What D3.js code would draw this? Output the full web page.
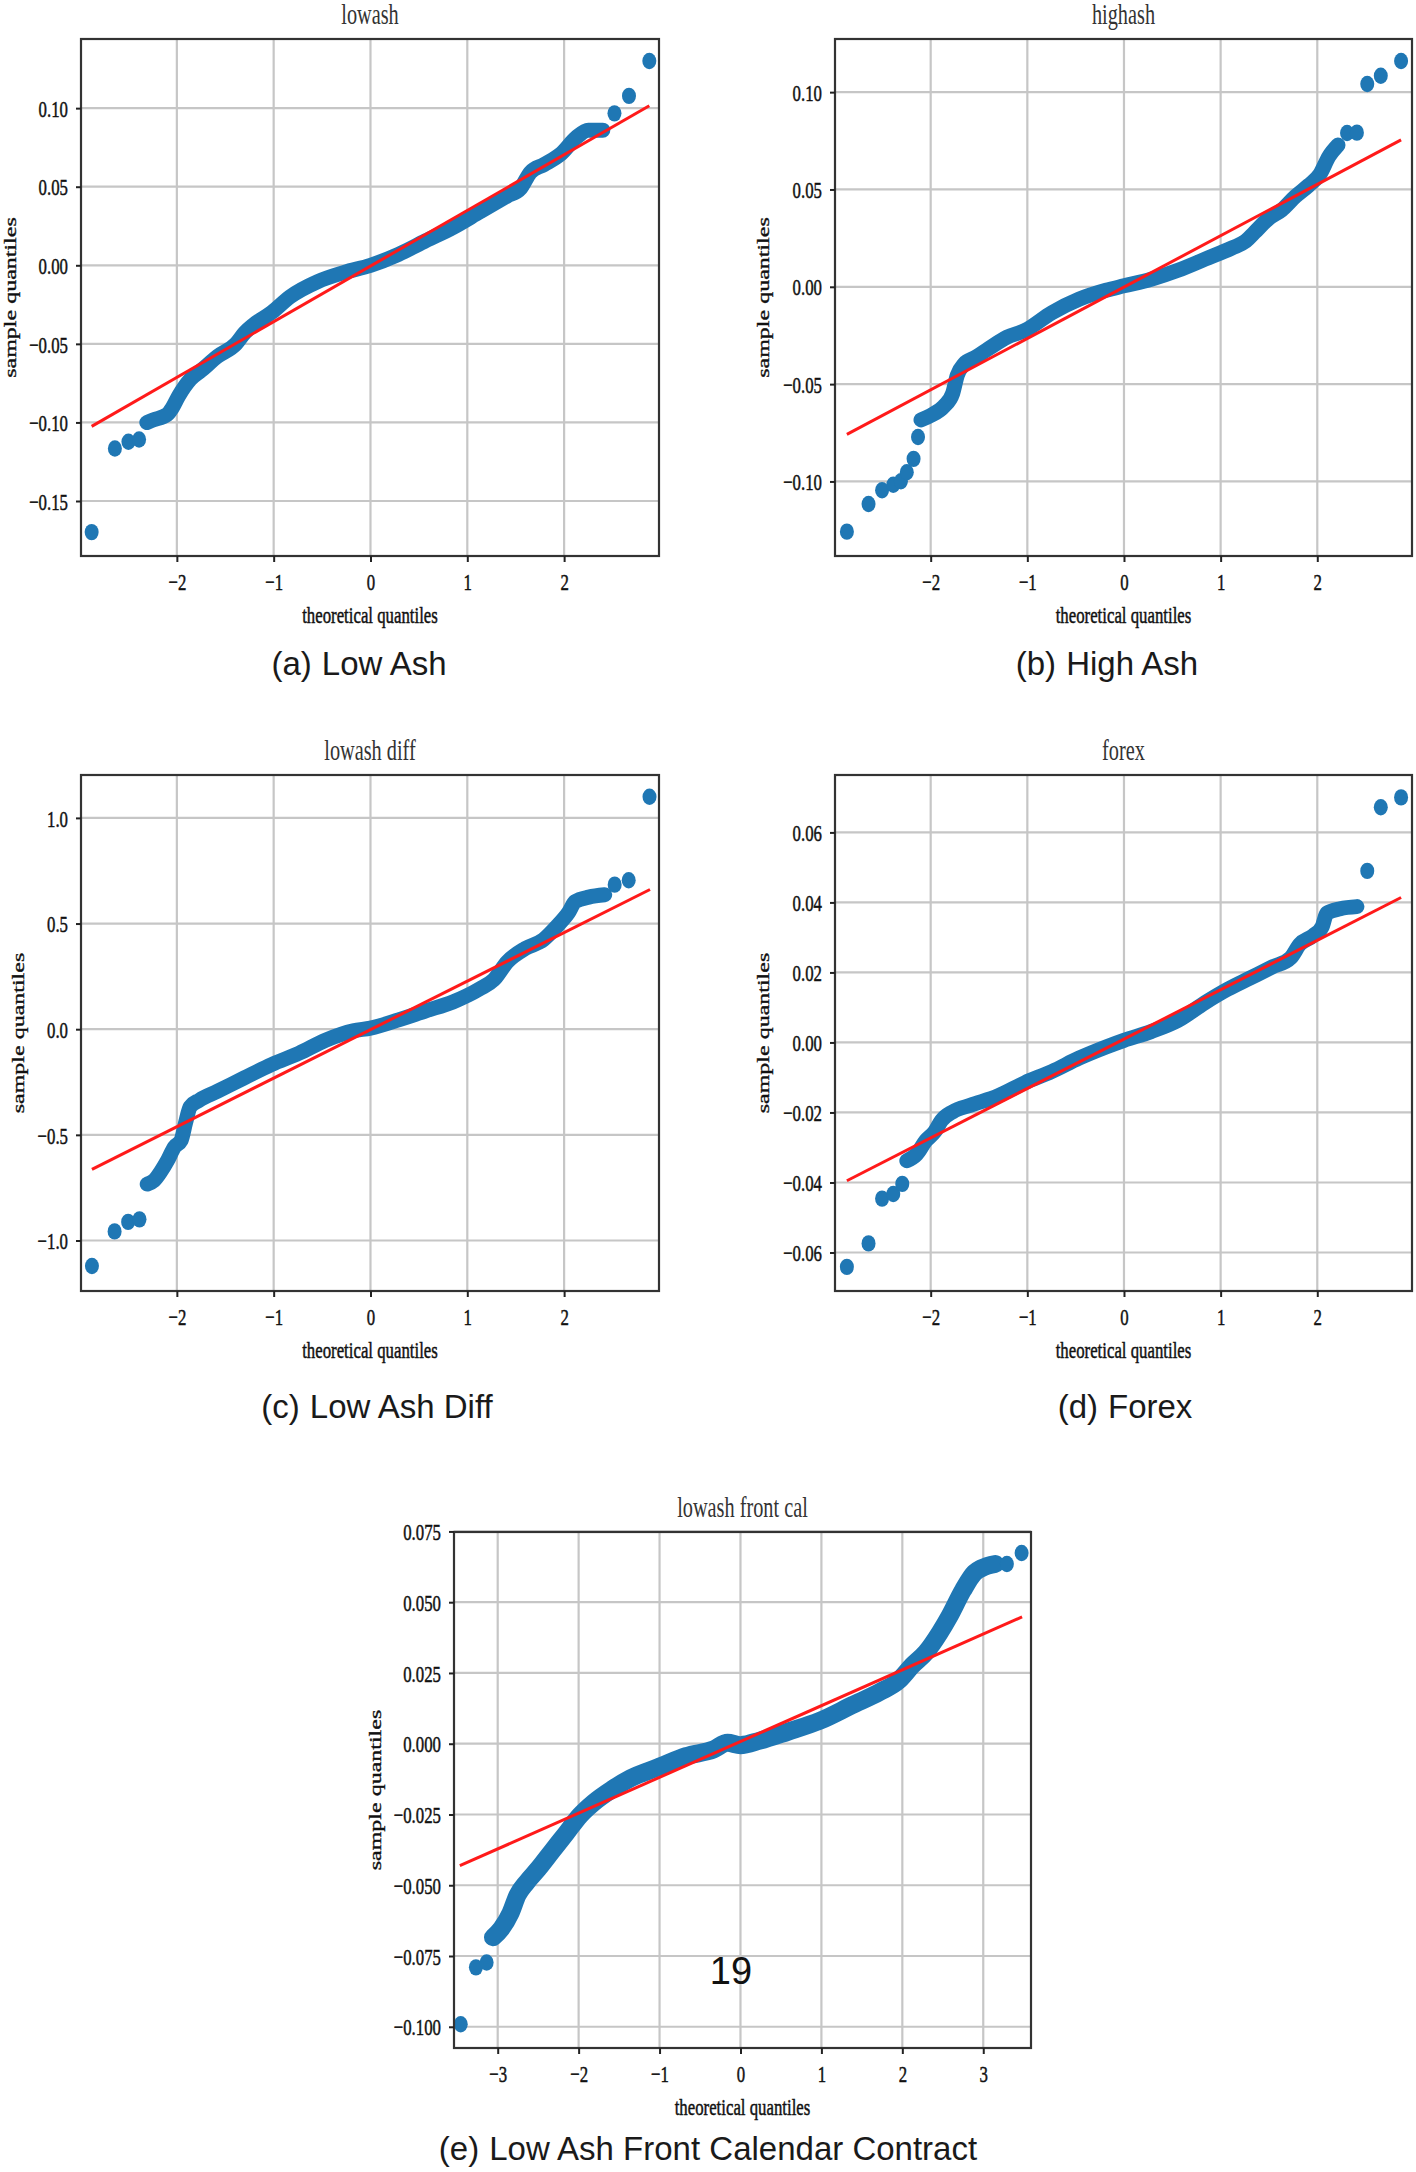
<!DOCTYPE html>
<html>
<head>
<meta charset="utf-8">
<script src="https://cdn.jsdelivr.net/npm/d3@7"></script>
<style>
  body { margin: 0; background: #fff; }
</style>
</head>
<body>
<svg id="fig"></svg>
<script>
// tick values
const theoTicks = [-2, -1, 0, 1, 2];
const theoTicksWide = [-3, -2, -1, 0, 1, 2, 3];
const lowashTicks = [-0.15, -0.10, -0.05, 0, 0.05, 0.10];
const highashTicks = [-0.10, -0.05, 0, 0.05, 0.10];
const diffTicks = [-1.0, -0.5, 0, 0.5, 1.0];
const forexTicks = [-0.06, -0.04, -0.02, 0, 0.02, 0.04, 0.06];
const frontTicks = [-0.100, -0.075, -0.050, -0.025, 0, 0.025, 0.050, 0.075];

// lowash: dense band of points, separate tail points, fitted line ends
const lowashBandQ = [-2.31, -2.25, -2.10, -2.05, -1.98, -1.86, -1.75, -1.58, -1.39, -1.30, -1.21, -1.02, -0.83, -0.55, -0.27, 0, 0.29, 0.57, 0.85, 1.13, 1.41, 1.55, 1.65, 1.79, 1.97, 2.12, 2.25, 2.40];
const lowashBandS = [-0.1001, -0.0985, -0.095, -0.091, -0.083, -0.0725, -0.067, -0.058, -0.050, -0.043, -0.038, -0.030, -0.020, -0.0105, -0.0045, 0, 0.007, 0.0156, 0.024, 0.034, 0.044, 0.049, 0.059, 0.064, 0.071, 0.081, 0.086, 0.086];
const lowashDotQ = [-2.88, -2.64, -2.50, -2.39, 2.52, 2.67, 2.88];
const lowashDotS = [-0.1698, -0.1166, -0.1123, -0.1109, 0.0967, 0.1078, 0.130];
const lowashFitQ = [-2.88, 2.88];
const lowashFitS = [-0.1025, 0.1015];

// highash
const highashBandQ = [-2.10, -2.00, -1.865, -1.772, -1.725, -1.655, -1.538, -1.399, -1.212, -1.026, -0.746, -0.466, -0.186, 0, 0.280, 0.559, 0.839, 1.119, 1.259, 1.352, 1.492, 1.632, 1.772, 1.911, 2.028, 2.121, 2.214];
const highashBandS = [-0.0684, -0.0661, -0.0615, -0.0547, -0.0455, -0.0397, -0.0363, -0.0317, -0.0259, -0.0225, -0.0133, -0.0064, -0.0018, 0.0005, 0.0039, 0.0085, 0.0142, 0.020, 0.0234, 0.028, 0.0349, 0.0395, 0.0464, 0.0521, 0.0579, 0.0670, 0.0728];
const highashDotQ = [-2.867, -2.643, -2.503, -2.387, -2.308, -2.247, -2.177, -2.131, 2.308, 2.410, 2.517, 2.657, 2.867];
const highashDotS = [-0.1258, -0.1116, -0.1045, -0.1017, -0.0999, -0.0953, -0.0884, -0.0772, 0.0790, 0.0792, 0.1042, 0.1084, 0.1160];
const highashFitQ = [-2.867, 2.867];
const highashFitS = [-0.0758, 0.0755];

// lowash diff
const diffBandQ = [-2.306, -2.236, -2.166, -2.096, -2.026, -1.956, -1.909, -1.862, -1.768, -1.581, -1.301, -1.020, -0.739, -0.458, -0.178, 0, 0.290, 0.571, 0.851, 1.132, 1.273, 1.413, 1.600, 1.787, 1.927, 2.044, 2.115, 2.255, 2.419];
const diffBandS = [-0.733, -0.716, -0.674, -0.621, -0.558, -0.526, -0.441, -0.367, -0.336, -0.294, -0.230, -0.167, -0.114, -0.051, -0.008, 0.005, 0.044, 0.087, 0.129, 0.192, 0.234, 0.319, 0.382, 0.424, 0.488, 0.551, 0.604, 0.625, 0.636];
const diffDotQ = [-2.877, -2.643, -2.503, -2.386, 2.522, 2.667, 2.882];
const diffDotS = [-1.121, -0.957, -0.912, -0.900, 0.684, 0.705, 1.100];
const diffFitQ = [-2.877, 2.887];
const diffFitS = [-0.663, 0.661];

// forex
const forexBandQ = [-2.247, -2.145, -2.051, -1.958, -1.888, -1.772, -1.585, -1.305, -1.026, -0.746, -0.466, -0.186, 0, 0.280, 0.559, 0.839, 1.072, 1.305, 1.538, 1.725, 1.818, 1.958, 2.051, 2.098, 2.238, 2.410];
const forexBandS = [-0.0338, -0.0319, -0.0281, -0.0255, -0.0223, -0.0198, -0.0179, -0.0153, -0.0115, -0.0083, -0.0045, -0.0013, 0.0006, 0.0031, 0.0063, 0.0114, 0.0152, 0.0184, 0.0216, 0.0242, 0.028, 0.0305, 0.0331, 0.0369, 0.0382, 0.0388];
const forexDotQ = [-2.867, -2.643, -2.503, -2.387, -2.294, 2.517, 2.657, 2.867];
const forexDotS = [-0.0641, -0.0574, -0.0446, -0.0433, -0.0404, 0.049, 0.0672, 0.070];
const forexFitQ = [-2.867, 2.867];
const forexFitS = [-0.0395, 0.0414];

// lowash front cal
const frontBandQ = [-3.058, -2.955, -2.841, -2.755, -2.641, -2.499, -2.327, -2.156, -1.985, -1.814, -1.586, -1.358, -1.015, -0.673, -0.331, -0.160, 0, 0.240, 0.582, 0.981, 1.380, 1.723, 1.951, 2.122, 2.293, 2.464, 2.578, 2.749, 2.892, 2.978, 3.149];
const frontBandS = [-0.0684, -0.0653, -0.0598, -0.0535, -0.0489, -0.0442, -0.0379, -0.0317, -0.0254, -0.0208, -0.0161, -0.0122, -0.0083, -0.0044, -0.0020, 0.0003, -0.0005, 0.0011, 0.0042, 0.0081, 0.0136, 0.0183, 0.0222, 0.0276, 0.0323, 0.0393, 0.0448, 0.0542, 0.0604, 0.0620, 0.0635];
const frontDotQ = [-3.457, -3.269, -3.137, 3.292, 3.474];
const frontDotS = [-0.0991, -0.0790, -0.0773, 0.0635, 0.0674];
const frontFitQ = [-3.468, 3.48];
const frontFitS = [-0.0431, 0.0448];

const W = 1416, H = 2172;
const svg = d3.select("#fig").attr("width", W).attr("height", H);
svg.append("rect").attr("width", W).attr("height", H).attr("fill", "#fff");

const SERIF = "'Liberation Serif', 'Times New Roman', serif";
const SANS = "'Liberation Sans', Arial, sans-serif";
const SQ = 0.7; // the figure's serif text is squeezed sideways

const panels = [
    { title: "lowash", caption: ["(a)", "Low Ash"], box: [81, 39, 659, 556], xd: [-2.99, 2.98], yd: [-0.185, 0.144],
      xt: theoTicks, yt: lowashTicks, fmt: ".2f", bq: lowashBandQ, bs: lowashBandS, dq: lowashDotQ, ds: lowashDotS,
      fq: lowashFitQ, fs: lowashFitS, ylx: 16, cx: 359, cy: 675, bw: 15 },
    { title: "highash", caption: ["(b)", "High Ash"], box: [835, 39, 1412, 556], xd: [-2.99, 2.98], yd: [-0.1383, 0.1273],
      xt: theoTicks, yt: highashTicks, fmt: ".2f", bq: highashBandQ, bs: highashBandS, dq: highashDotQ, ds: highashDotS,
      fq: highashFitQ, fs: highashFitS, ylx: 769, cx: 1107, cy: 675, bw: 15 },
    { title: "lowash diff", caption: ["(c)", "Low Ash Diff"], box: [81, 775, 659, 1291], xd: [-2.99, 2.98], yd: [-1.239, 1.203],
      xt: theoTicks, yt: diffTicks, fmt: ".1f", bq: diffBandQ, bs: diffBandS, dq: diffDotQ, ds: diffDotS,
      fq: diffFitQ, fs: diffFitS, ylx: 24, cx: 377, cy: 1418, bw: 15 },
    { title: "forex", caption: ["(d)", "Forex"], box: [835, 775, 1412, 1291], xd: [-2.99, 2.98], yd: [-0.0710, 0.0764],
      xt: theoTicks, yt: forexTicks, fmt: ".2f", bq: forexBandQ, bs: forexBandS, dq: forexDotQ, ds: forexDotS,
      fq: forexFitQ, fs: forexFitS, ylx: 769, cx: 1125, cy: 1418, bw: 15 },
    { title: "lowash front cal", caption: ["(e)", "Low Ash Front Calendar Contract"], box: [454, 1532, 1031, 2048], xd: [-3.54, 3.59], yd: [-0.1075, 0.0748],
      xt: theoTicksWide, yt: frontTicks, fmt: ".3f", bq: frontBandQ, bs: frontBandS, dq: frontDotQ, ds: frontDotS,
      fq: frontFitQ, fs: frontFitS, ylx: 381, cx: 708, cy: 2160, bw: 18 }
];

function squeezed(g, x, y, str, size, anchor, rot) {
    return g.append("text")
        .attr("transform", `translate(${x},${y}) scale(${SQ},1)` + (rot ? " rotate(-90)" : ""))
        .attr("text-anchor", anchor)
        .style("font-family", SERIF)
        .style("font-size", size + "px")
        .attr("fill", "#111")
        .attr("stroke", "#111").attr("stroke-width", 0.5)
        .text(str);
}

panels.forEach(p => {
    const [L, T, R, B] = p.box;
    const x = d3.scaleLinear().domain(p.xd).range([L, R]);
    const y = d3.scaleLinear().domain(p.yd).range([B, T]);
    const g = svg.append("g");

    // grid
    g.append("g").selectAll("line").data(p.xt).enter().append("line")
        .attr("x1", d => x(d)).attr("x2", d => x(d)).attr("y1", T).attr("y2", B)
        .attr("stroke", "#c6c6c6").attr("stroke-width", 2.2);
    g.append("g").selectAll("line").data(p.yt).enter().append("line")
        .attr("x1", L).attr("x2", R).attr("y1", d => y(d)).attr("y2", d => y(d))
        .attr("stroke", "#c6c6c6").attr("stroke-width", 2.2);

    // dense run of markers drawn as a thick band
    const band = p.bq.map((q, i) => [q, p.bs[i]]);
    g.append("path")
        .datum(band)
        .attr("d", d3.line().x(d => x(d[0])).y(d => y(d[1])).curve(d3.curveMonotoneX))
        .attr("fill", "none")
        .attr("stroke", "#1f77b4")
        .attr("stroke-width", p.bw)
        .attr("stroke-linecap", "round")
        .attr("stroke-linejoin", "round");

    // separate tail markers
    g.append("g").selectAll("ellipse").data(p.dq.map((q, i) => [q, p.ds[i]])).enter().append("ellipse")
        .attr("cx", d => x(d[0])).attr("cy", d => y(d[1]))
        .attr("rx", 7).attr("ry", 8.2)
        .attr("fill", "#1f77b4");

    // fitted line
    g.append("line")
        .attr("x1", x(p.fq[0])).attr("y1", y(p.fs[0]))
        .attr("x2", x(p.fq[1])).attr("y2", y(p.fs[1]))
        .attr("stroke", "#ff1a1a").attr("stroke-width", 3);

    // frame
    g.append("rect").attr("x", L).attr("y", T).attr("width", R - L).attr("height", B - T)
        .attr("fill", "none").attr("stroke", "#333").attr("stroke-width", 2.2);

    // axes
    const yAxis = g.append("g").attr("transform", `translate(${L},0)`)
        .call(d3.axisLeft(y).tickValues(p.yt).tickSize(5).tickFormat(d3.format(p.fmt)));
    const xAxis = g.append("g").attr("transform", `translate(0,${B})`)
        .call(d3.axisBottom(x).tickValues(p.xt).tickSize(6).tickFormat(d3.format("d")));
    [yAxis, xAxis].forEach(a => {
        a.select(".domain").remove();
        a.selectAll(".tick line").attr("stroke", "#222").attr("stroke-width", 2);
        a.selectAll(".tick text")
            .style("font-family", SERIF).style("font-size", "24px")
            .attr("fill", "#111").attr("stroke", "#111").attr("stroke-width", 0.5);
    });
    yAxis.selectAll(".tick text")
        .attr("x", null).attr("dy", "0.34em")
        .attr("transform", `translate(-13,0) scale(${SQ},1)`);
    xAxis.selectAll(".tick text")
        .attr("y", null).attr("dy", null)
        .attr("transform", `translate(0,34) scale(${SQ},1)`);

    // titles and labels
    squeezed(g, (L + R) / 2, T - 15, p.title, 29, "middle").attr("fill", "#333").attr("stroke", "none");
    squeezed(g, (L + R) / 2, B + 67, "theoretical quantiles", 24, "middle");
    squeezed(g, p.ylx, (T + B) / 2, "sample quantiles", 24, "middle", true);

    // sub-figure caption
    const cap = g.append("text")
        .attr("x", p.cx).attr("y", p.cy)
        .attr("text-anchor", "middle")
        .style("font-family", SANS).style("font-size", "33px")
        .attr("fill", "#1a1a1a");
    cap.append("tspan").text(p.caption[0]);
    cap.append("tspan").attr("dx", 10).text(p.caption[1]);
});

// page number printed over the last plot
svg.append("text")
    .attr("x", 731).attr("y", 1984)
    .attr("text-anchor", "middle")
    .style("font-family", SANS).style("font-size", "38px")
    .attr("fill", "#111")
    .text("19");
</script>
</body>
</html>
